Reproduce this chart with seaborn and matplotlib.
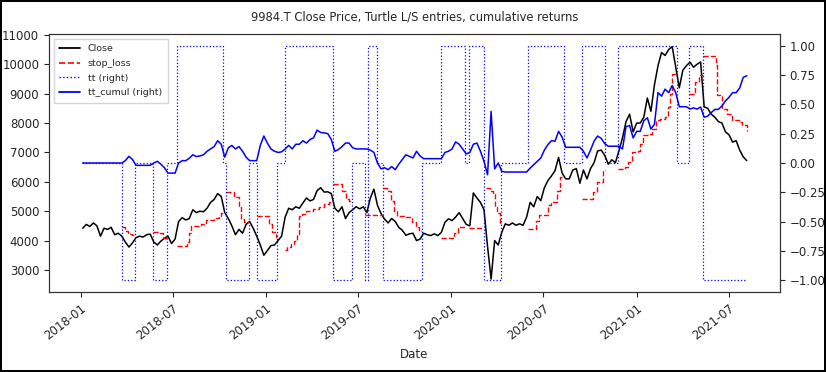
import numpy as np
import pandas as pd
import matplotlib
matplotlib.use("Agg")
import matplotlib.pyplot as plt
import matplotlib.dates as mdates
from matplotlib.lines import Line2D
import seaborn as sns

sns.set_style("ticks")
plt.rcParams['font.family'] = ['DejaVu Sans']

# ---------------- data ----------------
week_start = "2018-01-05"   # weekly samples (every 7 days)

close = [
    4420, 4550, 4480, 4600, 4500, 4150, 4420, 4380, 4450, 4200,
    4250, 4150, 3950, 3780, 3920, 4100, 4150, 4120, 4200, 4220,
    3950, 3850, 3980, 4080, 4150, 3900, 4050, 4650, 4780, 4700,
    4750, 5050, 4950, 5000, 4980, 5100, 5300, 5400, 5600, 5500,
    4950, 4750, 4500, 4200, 4380, 4250, 4550, 4650,
    4420, 4150, 3850, 3500, 3660, 3830, 3850, 4000, 4150, 4800,
    5100, 5050, 5150, 5100, 5280, 5450, 5350, 5400, 5700, 5800,
    5650, 5660, 5600, 5100, 4980, 5150, 4750, 4950, 5050, 5150,
    5080, 5150, 4950, 5450, 5750, 5200, 4920, 4730, 4600, 4750,
    4650, 4450, 4350, 4180, 4230, 4250, 4000, 4050, 4250, 4200,
    4170, 4230, 4170, 4280, 4620, 4740, 4680, 4800, 4950, 4750,
    4550, 4500, 5620, 5450, 5300, 5050, 3800, 2690, 4000, 3850,
    4280, 4570, 4520, 4600, 4520, 4570, 4520, 4800, 5300, 5150,
    5500, 5360, 5800, 6040, 6200, 6380, 6830, 6300, 6100, 6100,
    6400, 6450, 5950, 6400, 6100, 6450, 6650, 7050, 7080, 6900,
    6600, 6750, 6650, 7050, 7500, 8050, 8300, 7700, 8000, 8000,
    8200, 8850, 8400, 9300, 9950, 10400, 10300, 10500, 10600, 9900,
    9200, 9800, 9950, 10070, 9900, 10000, 10080, 8550, 8500, 8300,
    8200, 8050, 8000, 7700, 7600, 7350, 7400, 7080, 6850, 6720,
]

tt_cumul = [
    0, 0, 0, 0, 0, 0, 0, 0, 0, 0, 0, 0,
    0.02, 0.057, 0.03, -0.02, -0.02, -0.02, -0.02, -0.02,
    0.0, 0.014, -0.01, -0.04, -0.086, -0.086, -0.086, 0.0, 0.02, 0.02,
    0.04, 0.07, 0.055, 0.06, 0.07, 0.1,
    0.12, 0.14, 0.19, 0.16, 0.05, 0.13, 0.15, 0.12, 0.14, 0.1, 0.05, 0.02, 0.02, 0.02,
    0.15, 0.23, 0.17, 0.12, 0.10, 0.09, 0.095, 0.12, 0.15, 0.12,
    0.16, 0.16, 0.19, 0.17, 0.20, 0.215, 0.28, 0.26, 0.257, 0.25,
    0.20, 0.10, 0.115, 0.14, 0.17, 0.17, 0.13, 0.12, 0.12, 0.12,
    0.12, 0.11, 0.09, 0.0, -0.05, -0.04, -0.057, -0.03, -0.057, -0.01,
    0.03, 0.07, 0.057, 0.043, 0.10, 0.06, 0.037, 0.037,
    0.037, 0.037, 0.037, 0.037,
    0.09, 0.10, 0.12, 0.18, 0.16, 0.12, 0.077, 0.09, 0.16, 0.17,
    0.1, 0.014, -0.1, 0.44, -0.05, 0.0, -0.071,
    -0.077, -0.077, -0.077, -0.077, -0.077, -0.077, -0.077,
    -0.043, -0.014, 0.014, 0.043, 0.11, 0.157, 0.19, 0.186, 0.27, 0.22,
    0.134, 0.134, 0.134, 0.134, 0.134,
    0.10, 0.043, 0.11, 0.186, 0.23, 0.21, 0.165,
    0.143, 0.143, 0.143, 0.143,
    0.12, 0.31, 0.32, 0.214, 0.27, 0.27, 0.36, 0.386, 0.29, 0.33,
    0.60, 0.57, 0.63, 0.60, 0.66, 0.6, 0.48, 0.48, 0.48, 0.46,
    0.47, 0.46, 0.477, 0.39, 0.40, 0.43, 0.457, 0.457, 0.486, 0.53,
    0.56, 0.6, 0.6, 0.64, 0.73, 0.744,
]

# tt position signal (+1 long, -1 short, 0 flat) at change dates
tt_dates = ["2018-01-04", "2018-03-23", "2018-04-19", "2018-05-23", "2018-06-20",
            "2018-07-09", "2018-10-09", "2018-10-15", "2018-11-28", "2018-12-14",
            "2019-01-22", "2019-02-07", "2019-05-13", "2019-06-20", "2019-07-16",
            "2019-07-22", "2019-08-09", "2019-08-20", "2019-11-05", "2019-12-12",
            "2020-01-29", "2020-02-06", "2020-03-06", "2020-04-09", "2020-06-01",
            "2020-08-10", "2020-09-15", "2020-10-30", "2020-11-25", "2021-03-22",
            "2021-04-15", "2021-05-11", "2021-08-06"]
tt_vals = [0, -1, 0, -1, 0,
           1, 0, -1, 0, -1,
           0, 1, -1, 0, -1,
           1, 0, -1, 0, 1,
           0, 1, -1, 0, 1,
           0, 1, 0, 1, 0,
           1, -1, -1]

# stop loss levels (step changes), grouped by trade segment
sl_dates = [
    "2018-03-23", "2018-03-29", "2018-04-05", "2018-04-13", "2018-04-19",
    "2018-05-23", "2018-06-04", "2018-06-13", "2018-06-18", "2018-06-20",
    "2018-07-09", "2018-07-30", "2018-08-03", "2018-08-06", "2018-08-27", "2018-09-05",
    "2018-09-20", "2018-10-01", "2018-10-05", "2018-10-09",
    "2018-10-15", "2018-10-30", "2018-11-09", "2018-11-12", "2018-11-19", "2018-11-28",
    "2018-12-14", "2019-01-07", "2019-01-14", "2019-01-21", "2019-01-22",
    "2019-02-07", "2019-02-12", "2019-02-19", "2019-02-26", "2019-03-04", "2019-03-07",
    "2019-03-14", "2019-03-21", "2019-04-03", "2019-04-16", "2019-04-26", "2019-05-06", "2019-05-10",
    "2019-05-13", "2019-05-31", "2019-06-07", "2019-06-13", "2019-06-20",
    "2019-07-16", "2019-08-19",
    "2019-08-20", "2019-08-28", "2019-09-04", "2019-09-11", "2019-09-17", "2019-10-01",
    "2019-10-16", "2019-10-23", "2019-10-30", "2019-11-05",
    "2019-12-12", "2020-01-07", "2020-01-14", "2020-01-29",
    "2020-02-06", "2020-03-05",
    "2020-03-09", "2020-03-17", "2020-03-23", "2020-03-27", "2020-04-01", "2020-04-06", "2020-04-09",
    "2020-06-01", "2020-06-17", "2020-06-23", "2020-07-10", "2020-07-17", "2020-07-27",
    "2020-08-03", "2020-08-10",
    "2020-09-15", "2020-10-07", "2020-10-14", "2020-10-26", "2020-10-30",
    "2020-11-25", "2020-12-09", "2020-12-15", "2020-12-22", "2021-01-04", "2021-01-07",
    "2021-01-14", "2021-01-25", "2021-02-01", "2021-02-08", "2021-02-16", "2021-02-26",
    "2021-03-04", "2021-03-08", "2021-03-11", "2021-03-22",
    "2021-04-15", "2021-04-26", "2021-05-03", "2021-05-11",
    "2021-05-12", "2021-06-07", "2021-06-09", "2021-06-18", "2021-06-28", "2021-07-08",
    "2021-07-21", "2021-07-28", "2021-08-06",
]
sl_values = [
    4475, 4340, 4230, 4200, 4200,
    4300, 4260, 4080, 4020, 4020,
    3830, 3960, 4250, 4480, 4560, 4700,
    4760, 4850, 4930, 4930,
    5650, 5475, 5190, 4740, 4620, 4620,
    4820, 4570, 4280, 4110, 4110,
    3680, 3770, 3880, 4000, 4230, 4850,
    4900, 5020, 5080, 5135, 5250, 5306, 5306,
    5930, 5700, 5420, 5360, 5360,
    4870, 4870,
    5780, 5700, 5360, 5020, 4850, 4800,
    4620, 4450, 4330, 4330,
    4090, 4250, 4460, 4460,
    4420, 4420,
    5790, 5680, 5590, 5135, 4930, 4590, 4590,
    4410, 4650, 4860, 5200, 5300, 5700,
    6160, 6160,
    5410, 5670, 6010, 6400, 6400,
    6440, 6500, 6670, 7008, 7065, 7290,
    7576, 7633, 7800, 8087, 8144, 8200,
    8540, 9000, 9676, 9676,
    8995, 9393, 9620, 9620,
    10268, 9960, 8940, 8484, 8314, 8110,
    8030, 7917, 7746,
]
sl_segment = ([1] * 5 + [2] * 5 + [3] * 10 + [4] * 6 + [5] * 5 + [6] * 13 + [7] * 5 +
              [8] * 2 + [9] * 10 + [10] * 4 + [11] * 2 + [12] * 7 + [13] * 8 + [14] * 5 +
              [15] * 16 + [16] * 4 + [17] * 9)

title = "9984.T Close Price, Turtle L/S entries, cumulative returns"
legend_labels = ["Close", "stop_loss", "tt (right)", "tt_cumul (right)"]

# ---------------- frames ----------------
dates = pd.date_range(week_start, periods=len(close), freq="7D")
df = pd.DataFrame({"Date": dates, "Close": close, "tt_cumul": tt_cumul})
df_tt = pd.DataFrame({"Date": pd.to_datetime(tt_dates), "tt": tt_vals})
df_sl = pd.DataFrame({"Date": pd.to_datetime(sl_dates), "stop_loss": sl_values,
                      "seg": sl_segment})

# ---------------- plot ----------------
fig = plt.figure(figsize=(8.26, 3.72), dpi=100)
ax = fig.add_axes([49 / 826, 1 - 292 / 372, (780 - 49) / 826, (292 - 34) / 372])
ax2 = ax.twinx()

sns.lineplot(data=df, x="Date", y="Close", ax=ax, color="black", lw=1.1, legend=False)
sns.lineplot(data=df_sl, x="Date", y="stop_loss", units="seg", estimator=None, ax=ax,
             color="red", lw=1.0, linestyle="--", drawstyle="steps-post", legend=False)
sns.lineplot(data=df_tt, x="Date", y="tt", ax=ax2, color="blue", lw=0.9,
             linestyle=":", drawstyle="steps-post", legend=False)
sns.lineplot(data=df, x="Date", y="tt_cumul", ax=ax2, color="blue", lw=1.1, legend=False)

ax.set_ylim(2250, 11030)
ax.set_yticks(np.arange(3000, 11001, 1000))
ax2.set_yticks(np.arange(-1.0, 1.01, 0.25))
ax2.set_yticklabels([f"{v:.2f}".replace("-", "\u2212") for v in np.arange(-1.0, 1.01, 0.25)])

ax.xaxis.set_major_locator(mdates.MonthLocator(bymonth=[1, 7]))
ax.xaxis.set_major_formatter(mdates.DateFormatter("%Y-%m"))
for lab in ax.get_xticklabels():
    lab.set_rotation(38)
    lab.set_ha("right")
    lab.set_rotation_mode("anchor")

ax.tick_params(labelsize=8.5)
ax2.tick_params(labelsize=8.5)
ax.set_xlabel("Date", fontsize=8.5)
ax.set_ylabel("")
ax2.set_ylabel("")
ax.set_title(title, fontsize=8.3, pad=10)
for a in (ax, ax2):
    for s in a.spines.values():
        s.set_visible(True)
        s.set_color("#333333")

handles = [Line2D([], [], color="black", lw=1.3),
           Line2D([], [], color="red", lw=1.2, linestyle="--"),
           Line2D([], [], color="blue", lw=1.0, linestyle=":"),
           Line2D([], [], color="blue", lw=1.3)]
leg = ax2.legend(handles, legend_labels, loc="upper left", fontsize=6.8,
                 frameon=True, fancybox=False, handlelength=2.2, borderpad=0.6,
                 labelspacing=0.6)
leg.get_frame().set_edgecolor("#cccccc")

fig.patch.set_edgecolor("black")
fig.patch.set_linewidth(1.5)
fig.savefig("out.png", dpi=100, edgecolor=fig.get_edgecolor())
